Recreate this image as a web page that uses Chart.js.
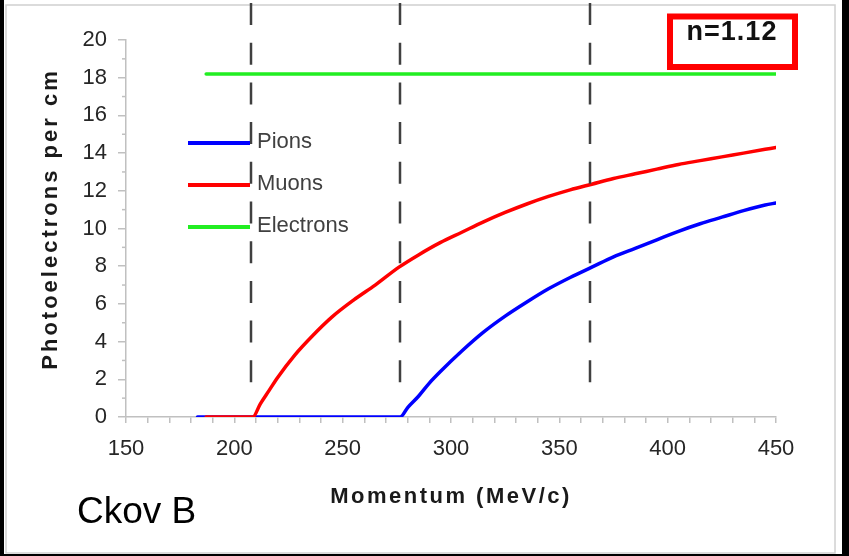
<!DOCTYPE html>
<html>
<head>
<meta charset="utf-8">
<script src="https://cdn.jsdelivr.net/npm/chart.js@4.4.0/dist/chart.umd.min.js"></script>
<style>
  html, body { margin: 0; padding: 0; background: #000; }
  #wrap { position: absolute; left: 0; top: 0; width: 849px; height: 556px; }
</style>
</head>
<body>
<div id="wrap"><canvas id="chart"></canvas></div>
<script>
// Values (momentum in MeV/c, photoelectrons per cm)
var pionMomentum = [183, 276.5, 280, 285, 290, 295, 305, 315, 325, 335, 345, 355, 365, 375, 385, 395, 405, 415, 425, 435, 445, 450];
var pionValues   = [0, 0, 0.5, 1.1, 1.8, 2.4, 3.5, 4.5, 5.35, 6.1, 6.8, 7.4, 7.95, 8.5, 8.95, 9.4, 9.85, 10.25, 10.6, 10.95, 11.25, 11.35];

var muonMomentum = [187, 208.5, 212, 216, 220, 228, 236, 245, 255, 265, 276, 285, 295, 305, 315, 325, 335, 345, 355, 365, 375, 385, 395, 405, 415, 425, 435, 445, 450];
var muonValues   = [0, 0, 0.7, 1.4, 2.1, 3.3, 4.3, 5.3, 6.2, 7.0, 7.95, 8.6, 9.25, 9.8, 10.35, 10.85, 11.3, 11.7, 12.05, 12.35, 12.65, 12.9, 13.15, 13.4, 13.6, 13.8, 14.0, 14.2, 14.3];

var electronMomentum = [187, 450];
var electronValues   = [18.2, 18.2];

// Cherenkov thresholds marked by dashed lines
var thresholds = [207.5, 276.5, 364];

var seriesNames = ['Pions', 'Muons', 'Electrons'];
var seriesColors = ['#0000ff', '#ff0000', '#22ee22'];

var xTicks = { min: 150, max: 450, step: 10, labelEvery: 50 };
var yTicks = { min: 0, max: 20, step: 2 };

var FONT = '"Liberation Sans", Arial, sans-serif';

function toPoints(xs, ys) {
  return xs.map(function(x, i) { return { x: x, y: ys[i] }; });
}

var decorPlugin = {
  id: 'decor',
  beforeDraw: function(chart) {
    var ctx = chart.ctx;
    ctx.save();
    ctx.fillStyle = '#000';
    ctx.fillRect(0, 0, chart.width, chart.height);
    ctx.fillStyle = '#fff';
    ctx.fillRect(4, 0, 838, 554);
    ctx.strokeStyle = '#d0d0d0';
    ctx.lineWidth = 1.5;
    ctx.strokeRect(6, 5, 829, 548);
    ctx.restore();
  },
  beforeDatasetsDraw: function(chart) {
    // minor ticks on the y axis
    var ctx = chart.ctx, y = chart.scales.y, x0 = chart.chartArea.left;
    ctx.save();
    ctx.strokeStyle = '#c0c0c0';
    ctx.lineWidth = 1.5;
    for (var v = yTicks.min + 1; v < yTicks.max; v += 2) {
      var py = y.getPixelForValue(v);
      ctx.beginPath();
      ctx.moveTo(x0 - 4, py);
      ctx.lineTo(x0, py);
      ctx.stroke();
    }
    ctx.restore();
  },
  afterDatasetsDraw: function(chart) {
    var ctx = chart.ctx, xs = chart.scales.x, ys = chart.scales.y;
    ctx.save();
    ctx.strokeStyle = '#404040';
    ctx.lineWidth = 2.5;
    ctx.setLineDash([22, 17.7]);
    thresholds.forEach(function(t) {
      var px = Math.round(xs.getPixelForValue(t));
      ctx.beginPath();
      ctx.moveTo(px, 3);
      ctx.lineTo(px, ys.getPixelForValue(1.8));
      ctx.stroke();
    });
    ctx.restore();
  },
  afterDraw: function(chart) {
    var ctx = chart.ctx;
    ctx.save();

    // legend
    chart.data.datasets.forEach(function(ds, i) {
      var ly = [143, 185, 227][i];
      ctx.strokeStyle = ds.borderColor;
      ctx.lineWidth = 4;
      ctx.setLineDash([]);
      ctx.beginPath();
      ctx.moveTo(188, ly);
      ctx.lineTo(250, ly);
      ctx.stroke();
      ctx.fillStyle = '#404040';
      ctx.font = '22px ' + FONT;
      ctx.textAlign = 'left';
      ctx.textBaseline = 'middle';
      ctx.fillText(ds.label, 257, ly - 1.5);
    });

    // axis titles
    ctx.fillStyle = '#1a1a1a';
    ctx.font = 'bold 22px ' + FONT;
    ctx.textAlign = 'center';
    ctx.textBaseline = 'middle';
    ctx.letterSpacing = '2.5px';
    ctx.fillText('Momentum (MeV/c)', 451, 497);

    ctx.save();
    ctx.translate(51, 221);
    ctx.rotate(-Math.PI / 2);
    ctx.letterSpacing = '3px';
    ctx.fillText('Photoelectrons per cm', 2, 0);
    ctx.restore();

    // index box
    ctx.letterSpacing = '1px';
    ctx.strokeStyle = '#ff0000';
    ctx.lineWidth = 6;
    ctx.strokeRect(670, 16.5, 125, 50.5);
    ctx.fillStyle = '#111';
    ctx.font = 'bold 27px ' + FONT;
    ctx.fillText('n=1.12', 732, 33);

    // detector label
    ctx.letterSpacing = '0px';
    ctx.fillStyle = '#000';
    ctx.font = '37px ' + FONT;
    ctx.textAlign = 'left';
    ctx.textBaseline = 'alphabetic';
    ctx.fillText('Ckov B', 77, 523);

    ctx.restore();
  }
};

var ctx = document.getElementById('chart').getContext('2d');
var chart = new Chart(ctx, {
  type: 'line',
  data: {
    datasets: [
      { label: seriesNames[0], data: toPoints(pionMomentum, pionValues), borderColor: seriesColors[0], order: 2 },
      { label: seriesNames[1], data: toPoints(muonMomentum, muonValues), borderColor: seriesColors[1], order: 1 },
      { label: seriesNames[2], data: toPoints(electronMomentum, electronValues), borderColor: seriesColors[2], order: 0 }
    ]
  },
  options: {
    responsive: true,
    maintainAspectRatio: false,
    animation: false,
    elements: {
      line: { borderWidth: 3.5, cubicInterpolationMode: 'monotone', fill: false, borderCapStyle: 'round' },
      point: { radius: 0, hoverRadius: 0 }
    },
    layout: { padding: { left: 0, top: 40, right: 73, bottom: 0 } },
    plugins: {
      legend: { display: false },
      tooltip: { enabled: false },
      title: { display: false }
    },
    scales: {
      x: {
        type: 'linear',
        min: xTicks.min,
        max: xTicks.max,
        afterFit: function(scale) { scale.height = 139; },
        border: { display: true, color: '#c0c0c0', width: 1.5 },
        grid: { drawOnChartArea: false, drawTicks: true, tickLength: 6, color: '#c0c0c0', lineWidth: 1.5 },
        ticks: {
          stepSize: xTicks.step,
          autoSkip: false,
          maxRotation: 0,
          padding: 13,
          color: '#262626',
          font: { family: FONT, size: 22 },
          callback: function(v) { return v % xTicks.labelEvery === 0 ? v : ''; }
        }
      },
      y: {
        min: yTicks.min,
        max: yTicks.max,
        afterFit: function(scale) { scale.width = 126; },
        border: { display: true, color: '#c0c0c0', width: 1.5 },
        grid: { drawOnChartArea: false, drawTicks: true, tickLength: 8, color: '#c0c0c0', lineWidth: 1.5 },
        ticks: {
          stepSize: yTicks.step,
          padding: 11,
          color: '#262626',
          font: { family: FONT, size: 22 }
        }
      }
    }
  },
  plugins: [decorPlugin]
});
</script>
</body>
</html>
